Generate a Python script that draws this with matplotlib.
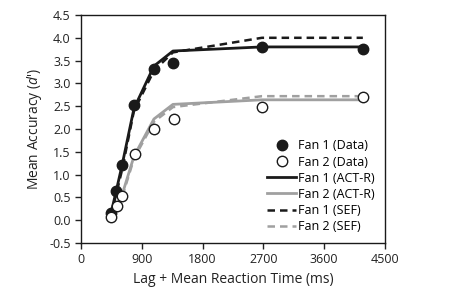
import matplotlib
matplotlib.use("Agg")
import matplotlib.pyplot as plt

plt.rcParams["font.family"] = ["Open Sans", "DejaVu Sans"]
plt.rcParams["mathtext.fontset"] = "custom"
plt.rcParams["mathtext.it"] = "Open Sans:italic"
plt.rcParams["mathtext.rm"] = "Open Sans"

lag_rt = [444, 518, 607, 784, 1080, 1361, 2678, 4172]
lag_rt_fan2 = [444, 530, 610, 795, 1080, 1375, 2678, 4172]

fan1_data = [0.15, 0.64, 1.21, 2.53, 3.32, 3.45, 3.80, 3.76]
fan2_data = [0.07, 0.31, 0.53, 1.45, 2.00, 2.22, 2.48, 2.70]

fan1_actr = [0.15, 0.62, 1.20, 2.45, 3.38, 3.71, 3.80, 3.80]
fan2_actr = [0.05, 0.30, 0.55, 1.40, 2.22, 2.54, 2.64, 2.64]
fan1_sef = [0.12, 0.55, 1.10, 2.40, 3.28, 3.68, 4.00, 4.00]
fan2_sef = [0.04, 0.27, 0.50, 1.35, 2.16, 2.48, 2.72, 2.72]

x_ticks = [0, 900, 1800, 2700, 3600, 4500]
y_ticks = [-0.5, 0.0, 0.5, 1.0, 1.5, 2.0, 2.5, 3.0, 3.5, 4.0, 4.5]

fig = plt.figure(figsize=(4.52, 3.02), dpi=100)
ax = fig.add_axes([81 / 452, 1 - 243 / 302, (385 - 81) / 452, (243 - 15) / 302])

ax.plot(lag_rt, fan1_data, "o", color="#1a1a1a", markersize=7.5, label="Fan 1 (Data)", zorder=5)
ax.plot(lag_rt_fan2, fan2_data, "o", markerfacecolor="white", markeredgecolor="#1a1a1a",
        markeredgewidth=1.0, markersize=7.5, label="Fan 2 (Data)", zorder=5)
ax.plot(lag_rt, fan1_actr, "-", color="#1a1a1a", lw=2, label="Fan 1 (ACT-R)", zorder=3)
ax.plot(lag_rt, fan2_actr, "-", color="#a0a0a0", lw=2, label="Fan 2 (ACT-R)", zorder=3)
ax.plot(lag_rt, fan1_sef, "--", color="#1a1a1a", lw=1.8, dashes=(3, 2), label="Fan 1 (SEF)", zorder=3)
ax.plot(lag_rt, fan2_sef, "--", color="#a0a0a0", lw=1.8, dashes=(3, 2), label="Fan 2 (SEF)", zorder=3)

ax.set_xlim(0, 4500)
ax.set_ylim(-0.5, 4.5)
ax.set_xticks(x_ticks)
ax.set_yticks(y_ticks)
ax.set_yticklabels([f"{v:.1f}" for v in y_ticks])
ax.tick_params(direction="out", length=4, width=1, labelsize=9, colors="#222222")
for s in ax.spines.values():
    s.set_linewidth(1.0)
    s.set_color("#1a1a1a")

ax.set_xlabel("Lag + Mean Reaction Time (ms)", fontsize=10, color="#222222")
ax.set_ylabel("Mean Accuracy ($\\mathit{d}$')", fontsize=10, color="#222222")

ax.legend(loc="lower right", frameon=False, fontsize=9, handlelength=2.3,
          handletextpad=0.2, labelspacing=0.25, borderaxespad=0.4)

fig.savefig("out.png", dpi=100)
